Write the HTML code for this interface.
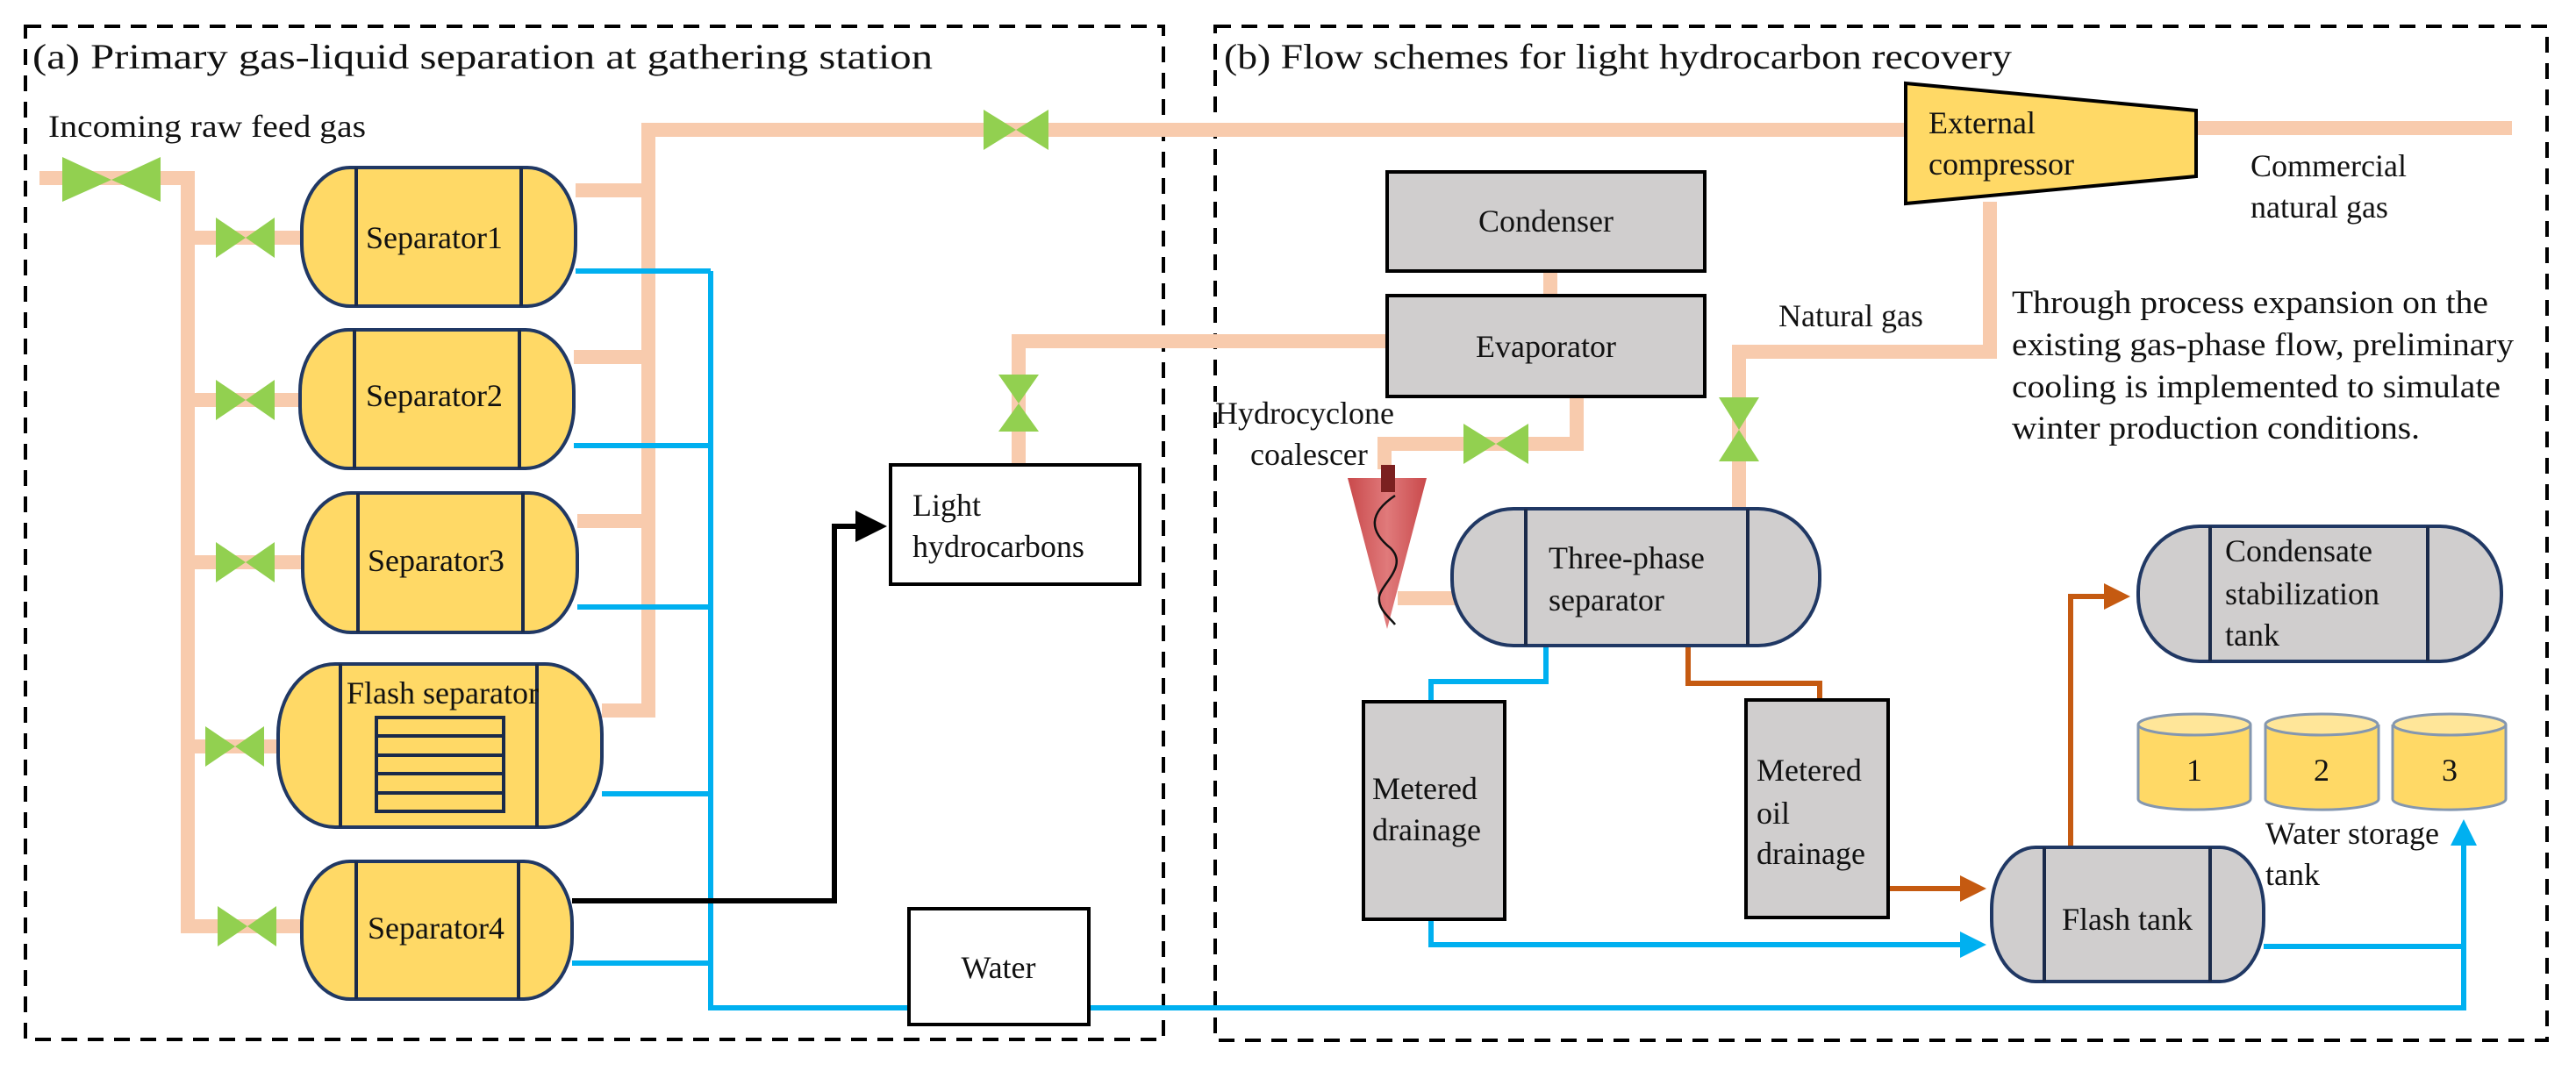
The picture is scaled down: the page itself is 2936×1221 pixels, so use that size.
<!DOCTYPE html>
<html><head><meta charset="utf-8"><style>
html,body{margin:0;padding:0;background:#fff;}
svg{display:block;}
svg text{font-family:"Liberation Serif","Times New Roman",serif;fill:#111;}
</style></head><body>
<svg width="2936" height="1221" viewBox="0 0 2936 1221" xmlns="http://www.w3.org/2000/svg" font-family="Liberation Serif, serif">
<defs>
<marker id="ab" markerWidth="6" markerHeight="6" refX="5" refY="3" orient="auto" markerUnits="strokeWidth"><path d="M0,0 L6,3 L0,6 Z" fill="#000"/></marker>
<marker id="au" markerWidth="5" markerHeight="5" refX="4" refY="2.5" orient="auto" markerUnits="strokeWidth"><path d="M0,0 L5,2.5 L0,5 Z" fill="#00B0F0"/></marker>
<marker id="ao" markerWidth="5" markerHeight="5" refX="4" refY="2.5" orient="auto" markerUnits="strokeWidth"><path d="M0,0 L5,2.5 L0,5 Z" fill="#C55A11"/></marker>
<linearGradient id="cy" x1="0" y1="0" x2="1" y2="0"><stop offset="0" stop-color="#C9494B"/><stop offset="0.5" stop-color="#E07A7B"/><stop offset="1" stop-color="#C9494B"/></linearGradient>
</defs>

<rect x="29" y="30" width="1297" height="1155" fill="none" stroke="#000" stroke-width="4" stroke-dasharray="18,12"/>
<rect x="1385" y="30" width="1518" height="1156" fill="none" stroke="#000" stroke-width="4" stroke-dasharray="18,12"/>

<g fill="none" stroke="#F8CBAD" stroke-width="16">
<polyline points="45,203 214,203 214,1056 344,1056"/>
<line x1="214" y1="271" x2="344" y2="271"/>
<line x1="214" y1="456" x2="344" y2="456"/>
<line x1="214" y1="641" x2="344" y2="641"/>
<line x1="214" y1="851" x2="317" y2="851"/>
<polyline points="686,810 739,810 739,148 2174,148"/>
<line x1="656" y1="217" x2="739" y2="217"/>
<line x1="654" y1="407" x2="739" y2="407"/>
<line x1="658" y1="594" x2="739" y2="594"/>
<line x1="2503" y1="146" x2="2863" y2="146"/>
<polyline points="1161,530 1161,389 1581,389"/>
<line x1="1767" y1="309" x2="1767" y2="337"/>
<polyline points="1797,452 1797,506 1578,506 1578,535"/>
<line x1="1593" y1="682" x2="1658" y2="682"/>
<polyline points="1982,580 1982,401 2268,401 2268,230"/>
</g>

<g fill="none" stroke="#00B0F0" stroke-width="6">
<line x1="656" y1="309" x2="810" y2="309"/>
<line x1="654" y1="508" x2="810" y2="508"/>
<line x1="658" y1="692" x2="810" y2="692"/>
<line x1="686" y1="905" x2="810" y2="905"/>
<line x1="652" y1="1098" x2="810" y2="1098"/>
<polyline points="810,309 810,1149 2808,1149 2808,940" marker-end="url(#au)"/>
<polyline points="1762,736 1762,777 1631,777 1631,800"/>
<polyline points="1631,1048 1631,1077 2258,1077" marker-end="url(#au)"/>
<polyline points="2580,1079 2808,1079"/>
</g>

<g fill="none" stroke="#C55A11" stroke-width="6">
<polyline points="1924,736 1924,779 2074,779 2074,798"/>
<polyline points="2152,1013 2258,1013" marker-end="url(#ao)"/>
<polyline points="2360,966 2360,680 2422,680" marker-end="url(#ao)"/>
</g>

<polyline points="652,1027 951,1027 951,600 1005,600" fill="none" stroke="#000" stroke-width="6" marker-end="url(#ab)"/>

<g fill="#92D050">
<path d="M71,179 L71,230 L127,205 Z M183,179 L183,230 L127,205 Z"/>
<path d="M246,248 L246,294 L280,271 Z M313,248 L313,294 L280,271 Z"/>
<path d="M246,433 L246,479 L280,456 Z M313,433 L313,479 L280,456 Z"/>
<path d="M246,618 L246,664 L280,641 Z M313,618 L313,664 L280,641 Z"/>
<path d="M234,828 L234,874 L268,851 Z M301,828 L301,874 L268,851 Z"/>
<path d="M248,1033 L248,1079 L282,1056 Z M315,1033 L315,1079 L282,1056 Z"/>
<path d="M1121,125 L1121,171 L1158,148 Z M1195,125 L1195,171 L1158,148 Z"/>
<path d="M1138,427 L1184,427 L1161,460 Z M1138,492 L1184,492 L1161,460 Z"/>
<path d="M1668,483 L1668,529 L1705,506 Z M1742,483 L1742,529 L1705,506 Z"/>
<path d="M1959,453 L2005,453 L1982,490 Z M1959,526 L2005,526 L1982,490 Z"/>
</g>

<g fill="#FFD966" stroke="#203864" stroke-width="4">
<rect x="344" y="191" width="312" height="158" rx="55" ry="70"/>
<rect x="342" y="376" width="312" height="158" rx="55" ry="70"/>
<rect x="345" y="562" width="313" height="159" rx="55" ry="70"/>
<rect x="317" y="757" width="369" height="186" rx="65" ry="80"/>
<rect x="344" y="982" width="308" height="157" rx="55" ry="70"/>
</g>
<g stroke="#1a2a4a" stroke-width="4" fill="none">
<path d="M406,191V349M594,191V349"/>
<path d="M404,376V534M592,376V534"/>
<path d="M408,562V721M596,562V721"/>
<path d="M388,757V943M612,757V943"/>
<path d="M406,982V1139M591,982V1139"/>
<rect x="429" y="818" width="145" height="107"/>
<path d="M429,839H574M429,861H574M429,882H574M429,904H574"/>
</g>
<g font-size="36">
<text x="417" y="283">Separator1</text>
<text x="417" y="463">Separator2</text>
<text x="419" y="651">Separator3</text>
<text x="395" y="802">Flash separator</text>
<text x="419" y="1070">Separator4</text>
</g>

<rect x="1015" y="530" width="284" height="136" fill="#fff" stroke="#000" stroke-width="4"/>
<text x="1040" y="588" font-size="36">Light</text>
<text x="1040" y="635" font-size="36">hydrocarbons</text>
<rect x="1036" y="1036" width="205" height="132" fill="#fff" stroke="#000" stroke-width="4"/>
<text x="1138" y="1115" font-size="36" text-anchor="middle">Water</text>

<text x="37" y="78" font-size="40" textLength="1026" lengthAdjust="spacingAndGlyphs">(a) Primary gas-liquid separation at gathering station</text>
<text x="55" y="156" font-size="36" textLength="362" lengthAdjust="spacingAndGlyphs">Incoming raw feed gas</text>
<text x="1395" y="78" font-size="40" textLength="898" lengthAdjust="spacingAndGlyphs">(b) Flow schemes for light hydrocarbon recovery</text>

<g fill="#D0CECE" stroke="#000" stroke-width="4">
<rect x="1581" y="196" width="362" height="113"/>
<rect x="1581" y="337" width="362" height="115"/>
<rect x="1554" y="800" width="161" height="248"/>
<rect x="1990" y="798" width="162" height="248"/>
</g>
<g font-size="36">
<text x="1762" y="264" text-anchor="middle">Condenser</text>
<text x="1762" y="407" text-anchor="middle">Evaporator</text>
<text x="1564" y="911">Metered</text>
<text x="1564" y="958">drainage</text>
<text x="2002" y="890">Metered</text>
<text x="2002" y="939">oil</text>
<text x="2002" y="985">drainage</text>
<text x="1385" y="483">Hydrocyclone</text>
<text x="1425" y="530">coalescer</text>
<text x="2027" y="372">Natural gas</text>
<text x="2565" y="201">Commercial</text>
<text x="2565" y="248">natural gas</text>
</g>

<path d="M1536,545 L1626,545 L1581,717 Z" fill="url(#cy)"/>
<rect x="1574" y="530" width="16" height="31" fill="#7B2020"/>
<path d="M1590,565 C1560,585 1560,605 1585,625 C1605,645 1575,665 1572,680 C1570,695 1585,705 1590,712" fill="none" stroke="#111" stroke-width="2.5"/>

<path d="M2172,95 L2503,126 L2503,201 L2172,232 Z" fill="#FFD966" stroke="#000" stroke-width="4"/>
<text x="2198" y="152" font-size="36">External</text>
<text x="2198" y="199" font-size="36">compressor</text>

<g fill="#D0CECE" stroke="#203864" stroke-width="4">
<rect x="1655" y="580" width="419" height="156" rx="70" ry="75"/>
<rect x="2437" y="600" width="414" height="154" rx="70" ry="75"/>
<rect x="2270" y="966" width="310" height="153" rx="50" ry="70"/>
</g>
<g stroke="#1a2a4a" stroke-width="4">
<path d="M1739,580V736M1992,580V736"/>
<path d="M2519,600V754M2767,600V754"/>
<path d="M2330,966V1119M2519,966V1119"/>
</g>
<g font-size="36">
<text x="1765" y="648">Three-phase</text>
<text x="1765" y="696">separator</text>
<text x="2536" y="640">Condensate</text>
<text x="2536" y="689">stabilization</text>
<text x="2536" y="736">tank</text>
<text x="2350" y="1060">Flash tank</text>
</g>

<g fill="#FFD966" stroke="#8497B0" stroke-width="3">
<path d="M2437,826 V911 A64,12 0 0 0 2565,911 V826"/>
<ellipse cx="2501" cy="826" rx="64" ry="12" fill="#FFE699"/>
<path d="M2582,826 V911 A64,12 0 0 0 2711,911 V826"/>
<ellipse cx="2646" cy="826" rx="64" ry="12" fill="#FFE699"/>
<path d="M2727,826 V911 A64,12 0 0 0 2856,911 V826"/>
<ellipse cx="2792" cy="826" rx="64" ry="12" fill="#FFE699"/>
</g>
<g font-size="36" text-anchor="middle">
<text x="2501" y="890">1</text>
<text x="2646" y="890">2</text>
<text x="2792" y="890">3</text>
</g>
<text x="2582" y="962" font-size="36">Water storage</text>
<text x="2582" y="1009" font-size="36">tank</text>

<g font-size="37">
<text x="2293" y="357" textLength="543" lengthAdjust="spacingAndGlyphs">Through process expansion on the</text>
<text x="2293" y="405" textLength="572" lengthAdjust="spacingAndGlyphs">existing gas-phase flow, preliminary</text>
<text x="2293" y="453" textLength="557" lengthAdjust="spacingAndGlyphs">cooling is implemented to simulate</text>
<text x="2293" y="500" textLength="465" lengthAdjust="spacingAndGlyphs">winter production conditions.</text>
</g>
</svg>
</body></html>
